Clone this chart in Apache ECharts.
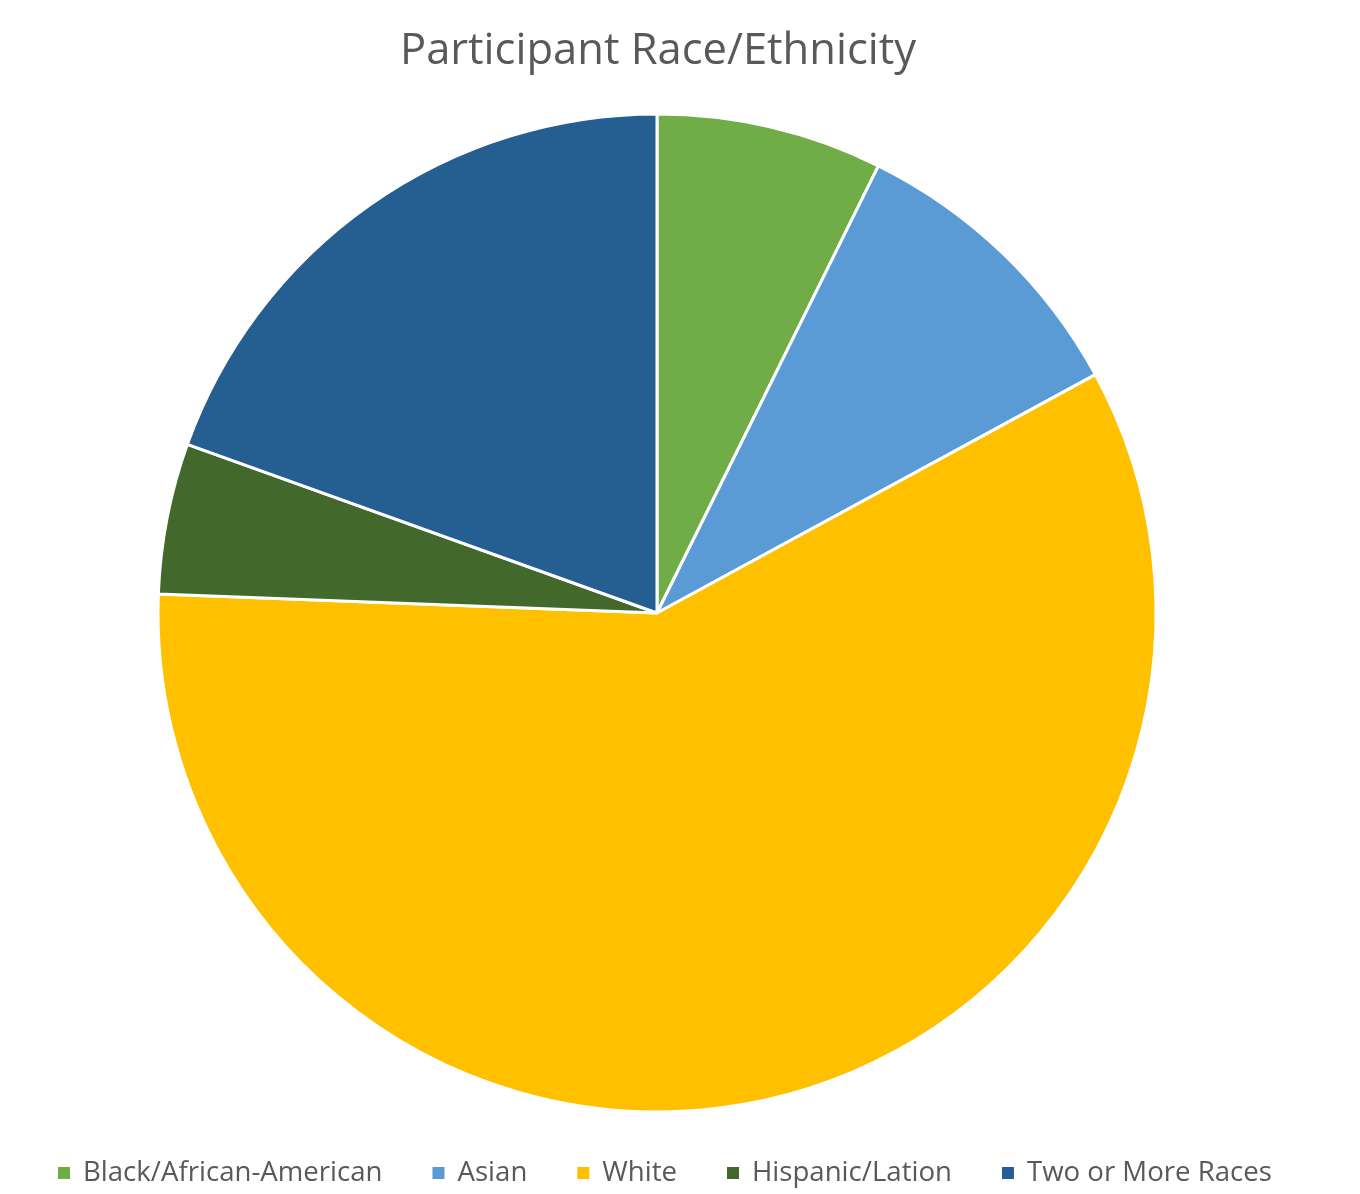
<!DOCTYPE html>
<html><head><meta charset="utf-8">
<script src="https://cdn.jsdelivr.net/npm/echarts@6/dist/echarts.min.js"></script>
<style>html,body{margin:0;padding:0;background:#fff}#c{width:1360px;height:1194px}</style>
</head><body><div id="c"></div>
<script>
var categories = ["Black/African-American", "Asian", "White", "Hispanic/Lation", "Two or More Races"];
var values = [3, 4, 24, 2, 8];
var colors = ["#70AD47", "#5B9BD5", "#FFC000", "#43682B", "#255E91"];
var chart = echarts.init(document.getElementById('c'));
chart.setOption({
  animation: false,
  title: {text: "Participant Race/Ethnicity", left: 400, top: 30, padding: 0,
    textStyle: {fontFamily: "Open Sans", fontWeight: 'normal', fontSize: 43.5, color: '#595959'}},
  legend: {top: 1159, left: 56, padding: 0, icon: 'rect', itemWidth: 14, itemHeight: 14, itemGap: 48,
    textStyle: {fontFamily: "Open Sans", fontSize: 27.6, color: '#595959', padding: [0, 0, 0, 7]},
    data: categories},
  series: [{type: 'pie', center: [657, 613], radius: 499, startAngle: 90, clockwise: true,
    label: {show: false}, labelLine: {show: false},
    itemStyle: {borderColor: '#fff', borderWidth: 3},
    data: categories.map(function(n, i){ return {name: n, value: values[i], itemStyle: {color: colors[i]}}; })
  }]
});
</script></body></html>
